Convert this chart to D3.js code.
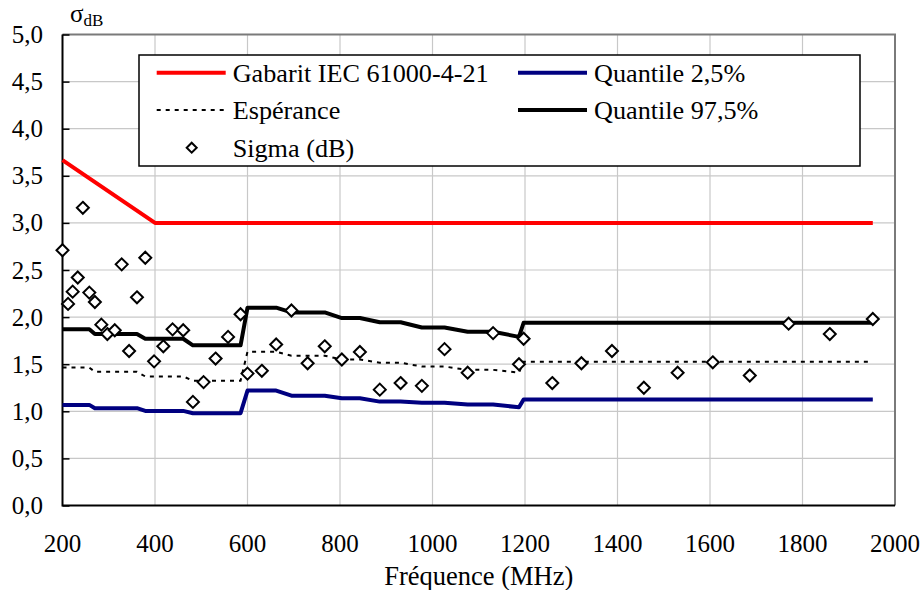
<!DOCTYPE html>
<html><head><meta charset="utf-8">
<script src="https://cdn.jsdelivr.net/npm/d3@7/dist/d3.min.js"></script>
</head><body style="margin:0"><svg id="c" width="922" height="590"></svg>
<script>
const freqs = [200,212,222,233,244,258,270,284,297,313,328,344,361,379,398,418,438,461,482,505,531,558,585,600,631,662,695,730,767,804,843,886,931,977,1026,1076,1131,1187,1197,1259,1322,1388,1457,1530,1606,1686,1770,1859,1952];
const sigma = [2.71,2.14,2.27,2.42,3.16,2.26,2.16,1.92,1.82,1.86,2.56,1.64,2.21,2.63,1.53,1.69,1.87,1.86,1.10,1.31,1.56,1.79,2.03,1.40,1.43,1.71,2.07,1.51,1.69,1.55,1.63,1.23,1.30,1.27,1.66,1.41,1.83,1.50,1.77,1.30,1.51,1.64,1.25,1.41,1.52,1.38,1.93,1.82,1.98];
const q975 = [1.87,1.87,1.87,1.87,1.87,1.87,1.82,1.82,1.82,1.82,1.82,1.82,1.82,1.77,1.77,1.77,1.77,1.77,1.70,1.70,1.70,1.70,1.70,2.10,2.10,2.10,2.05,2.05,2.05,1.99,1.99,1.945,1.945,1.89,1.89,1.845,1.845,1.79,1.94,1.94,1.94,1.94,1.94,1.94,1.94,1.94,1.94,1.94,1.94];
const esperance = [1.464,1.464,1.464,1.464,1.464,1.464,1.42,1.42,1.42,1.42,1.42,1.42,1.42,1.37,1.37,1.37,1.37,1.37,1.325,1.325,1.325,1.325,1.325,1.633,1.633,1.633,1.59,1.59,1.59,1.55,1.55,1.516,1.516,1.475,1.475,1.44,1.44,1.41,1.527,1.527,1.527,1.527,1.527,1.527,1.527,1.527,1.527,1.527,1.527];
const q025 = [1.068,1.068,1.068,1.068,1.068,1.068,1.033,1.033,1.033,1.033,1.033,1.033,1.033,1.004,1.004,1.004,1.004,1.004,0.98,0.98,0.98,0.98,0.98,1.22,1.22,1.22,1.166,1.166,1.166,1.139,1.139,1.103,1.103,1.092,1.092,1.071,1.071,1.043,1.125,1.125,1.125,1.125,1.125,1.125,1.125,1.125,1.125,1.125,1.125];
const gabaritFreqs = [200,400,1952];
const gabarit = [3.667,3.0,3.0];
const xTicks = [200,400,600,800,1000,1200,1400,1600,1800,2000];
const yTicks = [0,0.5,1,1.5,2,2.5,3,3.5,4,4.5,5];
const legendItems = [
  {label:"Gabarit IEC 61000-4-21", type:"red"},
  {label:"Quantile 2,5%", type:"blue"},
  {label:"Espérance", type:"dash"},
  {label:"Quantile 97,5%", type:"black"},
  {label:"Sigma (dB)", type:"diamond"}
];

const FONT = "Liberation Serif";
const FS = 25;
const svg = d3.select("#c");
const L=62.5, R=895, T=34.5, B=505.5;
const x = d3.scaleLinear().domain([200,2000]).range([L,R]);
const y = d3.scaleLinear().domain([0,5]).range([B,T]);
const fmt = v => d3.format(".1f")(v).replace(".", ",");
function addText(parent, tx, ty, s, size, anchor){
  const t = parent.append("text").style("font-family",FONT).attr("x",tx).attr("y",ty).attr("font-size",size||FS);
  if(anchor) t.attr("text-anchor",anchor);
  if(s!==null) t.text(s);
  return t;
}

// grid
svg.append("g").selectAll("line").data(xTicks.slice(1,-1)).join("line")
  .attr("x1",d=>x(d)).attr("x2",d=>x(d)).attr("y1",T).attr("y2",B)
  .attr("stroke","#c8c8c8").attr("stroke-width",1.2);
svg.append("g").selectAll("line").data(yTicks.slice(1,-1)).join("line")
  .attr("x1",L).attr("x2",R).attr("y1",d=>y(d)).attr("y2",d=>y(d))
  .attr("stroke","#c8c8c8").attr("stroke-width",1.2);

// frame top/right gray
svg.append("path").attr("d",`M${L},${T}H${R}V${B}`).attr("fill","none").attr("stroke","#7a7a7a").attr("stroke-width",2);

// y axis ticks (inward)
const yAxis = d3.axisRight(y).tickValues(yTicks).tickSize(7).tickFormat("");
const yg = svg.append("g").attr("transform",`translate(${L},0)`).call(yAxis);
yg.select(".domain").remove();
yg.selectAll(".tick line").attr("stroke","#000").attr("stroke-width",1.5);
yTicks.forEach(v => addText(svg, 43, y(v)+8.5, fmt(v), FS, "end"));
xTicks.forEach(v => addText(svg, x(v), 552, String(v), FS, "middle"));
// axis lines left/bottom
svg.append("path").attr("d",`M${L},${T}V${B}H${R}`).attr("fill","none").attr("stroke","#000").attr("stroke-width",2);

// titles
const yt = addText(svg, 70, 22, null, FS);
yt.append("tspan").text("σ");
yt.append("tspan").attr("font-size",17).attr("dy",4).text("dB");
addText(svg, (L+R)/2, 585, "Fréquence (MHz)", 26.5, "middle");

// legend box
svg.append("rect").attr("x",139).attr("y",55).attr("width",721).attr("height",111)
  .attr("fill","#fff").attr("stroke","#000").attr("stroke-width",1.5);

// series
const line = (xs, ys) => d3.line().x((d,i)=>x(xs[i])).y(d=>y(d))(ys);
svg.append("path").attr("d",line(freqs,q025)).attr("fill","none").attr("stroke","#000080").attr("stroke-width",4).attr("stroke-linejoin","round");
svg.append("path").attr("d",line(freqs,q975)).attr("fill","none").attr("stroke","#000").attr("stroke-width",4).attr("stroke-linejoin","round");
svg.append("path").attr("d",line(freqs,esperance)).attr("fill","none").attr("stroke","#000").attr("stroke-width",2).attr("stroke-dasharray","4,5");
svg.append("path").attr("d",line(gabaritFreqs,gabarit)).attr("fill","none").attr("stroke","#ff0000").attr("stroke-width",4).attr("stroke-linejoin","round");

const diamond = (cx,cy,r) => `M${cx},${cy-r}L${cx+r},${cy}L${cx},${cy+r}L${cx-r},${cy}Z`;
svg.append("g").selectAll("path").data(sigma).join("path")
  .attr("d",(d,i)=>diamond(x(freqs[i]),y(d),6))
  .attr("fill","#fff").attr("stroke","#000").attr("stroke-width",2);

// legend entries
const lg = svg.append("g");
const pos = [[156.7,72.7],[518,72.7],[156.7,110],[518,110],[156.7,147.7]];
legendItems.forEach((it,i)=>{
  const [lx,ly]=pos[i];
  if(it.type==="red"||it.type==="blue"||it.type==="black"){
    lg.append("line").attr("x1",lx).attr("x2",lx+69).attr("y1",ly).attr("y2",ly)
      .attr("stroke",it.type==="red"?"#ff0000":it.type==="blue"?"#000080":"#000").attr("stroke-width",4);
  } else if(it.type==="dash"){
    lg.append("line").attr("x1",lx).attr("x2",lx+69).attr("y1",ly).attr("y2",ly)
      .attr("stroke","#000").attr("stroke-width",2).attr("stroke-dasharray","4,5");
  } else {
    lg.append("path").attr("d",diamond(lx+35,ly,5)).attr("fill","#fff").attr("stroke","#000").attr("stroke-width",2);
  }
  addText(lg, lx+76, ly+9, it.label, 26.2);
});
</script></body></html>
